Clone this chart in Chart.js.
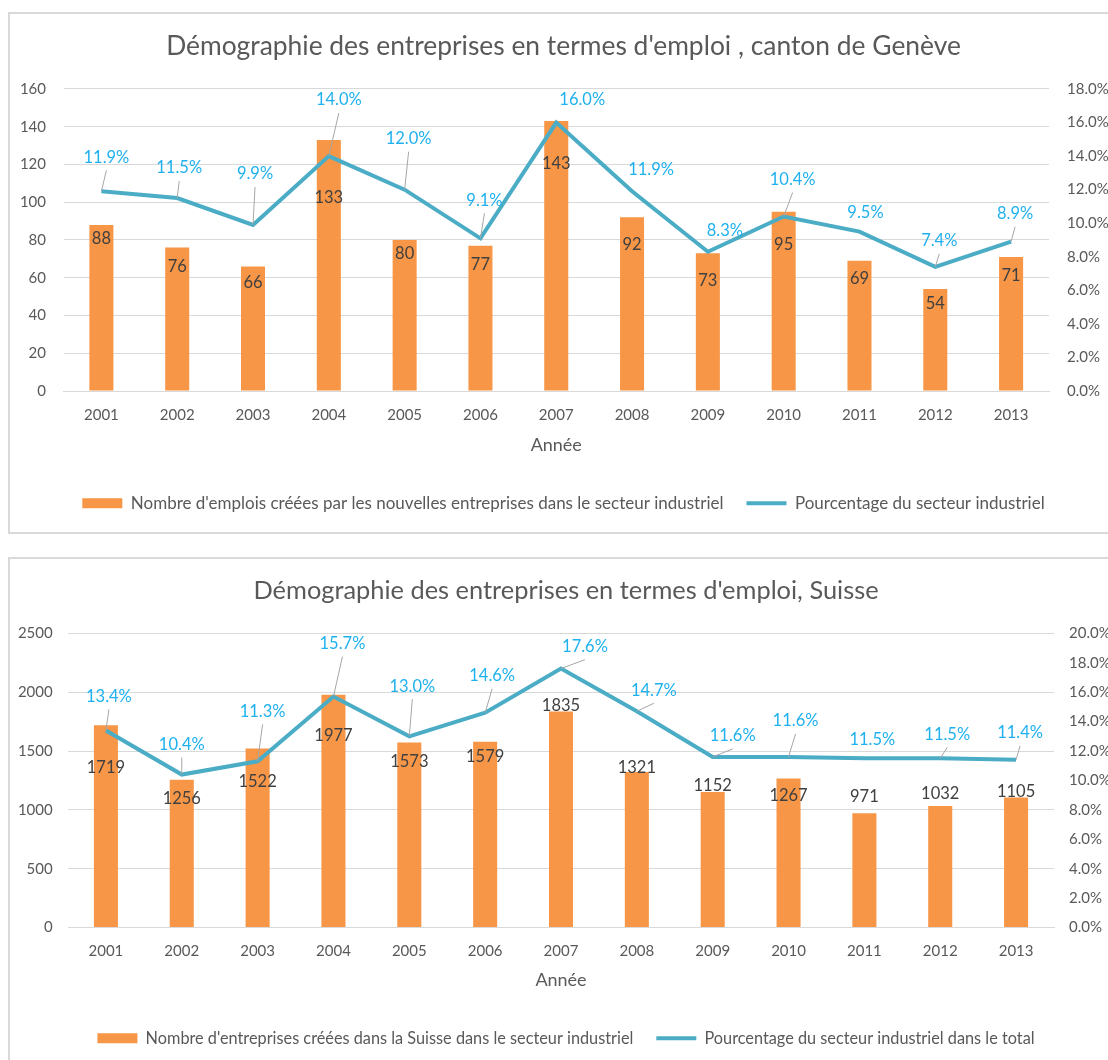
<!DOCTYPE html>
<html>
<head>
<meta charset="utf-8">
<script src="https://cdn.jsdelivr.net/npm/chart.js@4.4.1/dist/chart.umd.min.js"></script>
<style>
html, body { margin: 0; padding: 0; background: #fff; overflow: hidden; width: 1108px; height: 1060px; }
.box { position: absolute; border: 2px solid #d9d9d9; background: #fff; }
#box1 { left: 8px; top: 12px; }
#box2 { left: 8px; top: 557px; }
canvas { display: block; }
</style>
</head>
<body>
<div class="box" id="box1"><canvas id="geneva" width="1107" height="518"></canvas></div>
<div class="box" id="box2"><canvas id="suisse" width="1112" height="520"></canvas></div>
<script>
// data
const years = ['2001', '2002', '2003', '2004', '2005', '2006', '2007', '2008', '2009', '2010', '2011', '2012', '2013'];

// canton de Genève
const genevaJobs = [88, 76, 66, 133, 80, 77, 143, 92, 73, 95, 69, 54, 71];
const genevaShare = [11.9, 11.5, 9.9, 14.0, 12.0, 9.1, 16.0, 11.9, 8.3, 10.4, 9.5, 7.4, 8.9];
const genevaTicks = { max: 160, step: 20, pctMax: 18, pctStep: 2 };

// Suisse
const swissFirms = [1719, 1256, 1522, 1977, 1573, 1579, 1835, 1321, 1152, 1267, 971, 1032, 1105];
const swissShare = [13.4, 10.4, 11.3, 15.7, 13.0, 14.6, 17.6, 14.7, 11.6, 11.6, 11.5, 11.5, 11.4];
const swissTicks = { max: 2500, step: 500, pctMax: 20, pctStep: 2 };

const ORANGE = '#f79646';
const TEAL = '#4bacc6';
const GREY = '#595959';

Chart.defaults.font.family = 'Lato';
Chart.defaults.color = GREY;

// where Excel put the data labels (pixels, relative to bar top / line point)
const genevaBarDy = [14, 19, 16, 58, 14, 19, 43, 27, 27, 33, 18, 15, 19];
const genevaPct = [[5, -34, 1], [2, -30, 1], [2, -51, 1], [10, -56, 1], [4, -51, 1], [4, -38, 1], [26, -23, 0],
  [19, -22, 0], [17, -21, 0], [9, -37, 1], [6, -19, 0], [4, -26, 1], [4, -28, 1]];
const swissBarDy = [42, 19, 33, 41, 19, 15, -6, -4, -6, 17, -17, -12, -6];
const swissPct = [[3, -34, 1], [0, -30, 1], [5, -50, 1], [9, -53, 1], [3, -50, 1], [7, -37, 1], [24, -22, 1],
  [17, -21, 1], [20, -21, 1], [7, -36, 1], [8, -19, 0], [7, -24, 1], [4, -27, 1]];

// draws the value labels + leader lines like Excel does
const valueLabels = {
  id: 'valueLabels',
  afterDatasetsDraw(chart, args, opts) {
    const ctx = chart.ctx;
    const bars = chart.getDatasetMeta(0).data;
    const pts = chart.getDatasetMeta(1).data;
    const barVals = chart.data.datasets[0].data;
    const pctVals = chart.data.datasets[1].data;
    ctx.save();
    ctx.font = '16.5px Lato';
    ctx.textAlign = 'center';
    ctx.textBaseline = 'middle';
    bars.forEach((bar, i) => {
      ctx.fillStyle = '#404040';
      ctx.fillText(String(barVals[i]), bar.x, bar.y + opts.barDy[i]);
    });
    pts.forEach((pt, i) => {
      const [dx, dy, leader] = opts.pct[i];
      const lx = pt.x + dx, ly = pt.y + dy;
      if (leader) {
        ctx.strokeStyle = '#a6a6a6';
        ctx.lineWidth = 1;
        ctx.beginPath();
        ctx.moveTo(pt.x, pt.y);
        ctx.lineTo(lx, ly + 13);
        ctx.stroke();
      }
      ctx.fillStyle = '#1fb1ef';
      ctx.fillText(pctVals[i].toFixed(1) + '%', lx, ly);
    });
    ctx.restore();
  }
};

function legendItems(chart) {
  const items = Chart.defaults.plugins.legend.labels.generateLabels(chart);
  items.forEach(it => {
    if (it.datasetIndex === 1) {
      it.pointStyle = 'line';
      it.strokeStyle = TEAL;
      it.lineWidth = 4;
    } else {
      it.pointStyle = 'rect';
      it.fillStyle = ORANGE;
      it.lineWidth = 0;
    }
  });
  return items.sort((a, b) => a.datasetIndex - b.datasetIndex);
}

function makeChart(id, c) {
  return new Chart(document.getElementById(id), {
    type: 'bar',
    data: {
      labels: years,
      datasets: [{
        type: 'bar',
        label: c.barLabel,
        data: c.bars,
        backgroundColor: ORANGE,
        yAxisID: 'y',
        order: 1,
        barPercentage: 1,
        categoryPercentage: 0.317
      }, {
        type: 'line',
        label: c.lineLabel,
        data: c.pct,
        borderColor: TEAL,
        borderWidth: 4,
        pointRadius: 0,
        pointHoverRadius: 0,
        tension: 0,
        yAxisID: 'y1',
        order: 0
      }]
    },
    options: {
      responsive: false,
      animation: false,
      events: [],
      layout: { padding: { top: 0, left: 0, right: 0, bottom: c.padBottom } },
      plugins: {
        title: {
          display: true,
          text: c.title,
          color: GREY,
          font: { size: c.titleSize, weight: 'normal' },
          padding: { top: c.titleTop, bottom: c.titleBottom }
        },
        legend: {
          position: 'bottom',
          labels: {
            usePointStyle: true,
            pointStyleWidth: 40,
            boxHeight: 10,
            padding: 23,
            color: GREY,
            font: { size: c.legendSize },
            generateLabels: legendItems
          }
        },
        tooltip: { enabled: false },
        valueLabels: { barDy: c.barDy, pct: c.pctPos }
      },
      scales: {
        x: {
          grid: { display: false, drawTicks: false },
          border: { color: '#d9d9d9' },
          ticks: { color: GREY, font: { size: 15 }, padding: 15, maxRotation: 0 },
          title: { display: true, text: 'Année', color: GREY, font: { size: 18 }, padding: { top: 0, bottom: 16 } },
          afterFit(s) { s.height = c.xHeight; }
        },
        y: {
          position: 'left',
          min: 0,
          max: c.ticks.max,
          ticks: { stepSize: c.ticks.step, color: GREY, font: { size: 15 }, padding: c.yPad, callback: v => String(v) },
          grid: { color: '#d9d9d9', drawTicks: false },
          border: { display: false },
          afterFit(s) { s.width = c.yWidth; }
        },
        y1: {
          position: 'right',
          min: 0,
          max: c.ticks.pctMax,
          ticks: {
            stepSize: c.ticks.pctStep,
            color: GREY,
            font: { size: 15 },
            padding: c.y1Pad,
            callback: v => v.toFixed(1) + '%'
          },
          grid: { display: false, drawTicks: false },
          border: { display: false },
          afterFit(s) { s.width = c.y1Width; }
        }
      }
    },
    plugins: [valueLabels]
  });
}

makeChart('geneva', {
  title: "Démographie des entreprises en termes d'emploi , canton de Genève",
  barLabel: "Nombre d'emplois créées par les nouvelles entreprises dans le secteur industriel",
  lineLabel: 'Pourcentage du secteur industriel',
  bars: genevaJobs,
  pct: genevaShare,
  ticks: genevaTicks,
  barDy: genevaBarDy,
  pctPos: genevaPct,
  titleSize: 26.4,
  titleTop: 16.2,
  titleBottom: 27.1,
  legendSize: 17,
  padBottom: 10.2,
  xHeight: 80.8,
  yWidth: 53.5,
  yPad: 17.5,
  y1Width: 68,
  y1Pad: 18
});

makeChart('suisse', {
  title: "Démographie des entreprises en termes d'emploi, Suisse",
  barLabel: "Nombre d'entreprises créées dans la Suisse dans le secteur industriel",
  lineLabel: 'Pourcentage du secteur industriel dans le total',
  bars: swissFirms,
  pct: swissShare,
  ticks: swissTicks,
  barDy: swissBarDy,
  pctPos: swissPct,
  titleSize: 25.4,
  titleTop: 16.8,
  titleBottom: 27,
  legendSize: 16.3,
  padBottom: 22.5,
  xHeight: 79.6,
  yWidth: 58,
  yPad: 15.3,
  y1Width: 68,
  y1Pad: 15
});
</script>
</body>
</html>
